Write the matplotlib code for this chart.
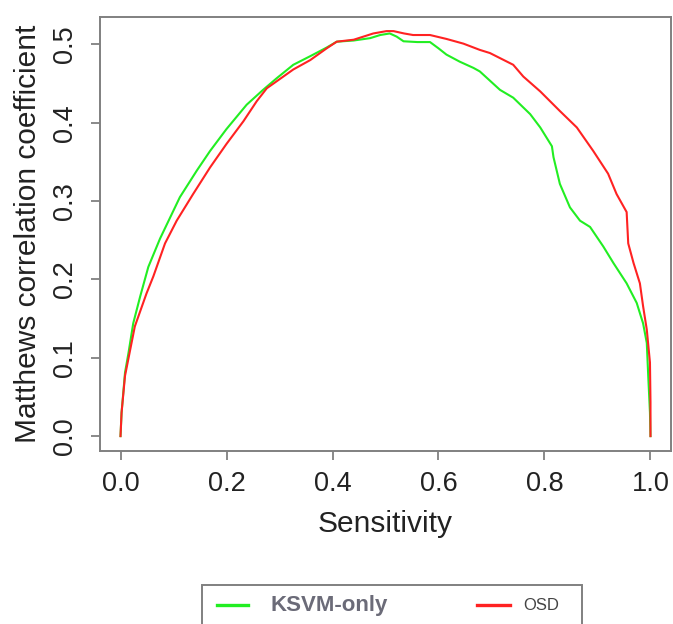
import matplotlib
matplotlib.use("Agg")
import matplotlib.pyplot as plt
from matplotlib.lines import Line2D
from matplotlib.patches import Rectangle

plt.rcParams['font.family'] = ['Liberation Sans', 'DejaVu Sans']

# KSVM-only (green) curve: sensitivity vs MCC
ksvm_sens = [0.0, 0.002, 0.0085, 0.015, 0.024, 0.037, 0.0525, 0.0745, 0.112, 0.144,
             0.169, 0.200, 0.238, 0.269, 0.295, 0.326, 0.358, 0.389, 0.408, 0.440,
             0.471, 0.490, 0.508, 0.521, 0.534, 0.560, 0.584, 0.600, 0.615, 0.640,
             0.666, 0.678, 0.716, 0.741, 0.773, 0.792, 0.814, 0.817, 0.829, 0.848,
             0.867, 0.886, 0.911, 0.930, 0.955, 0.974, 0.986, 0.993, 0.996, 0.999, 1.0]
ksvm_mcc = [0.0, 0.030, 0.081, 0.106, 0.144, 0.178, 0.216, 0.252, 0.305, 0.339,
            0.364, 0.392, 0.423, 0.442, 0.457, 0.474, 0.485, 0.496, 0.5035, 0.505,
            0.508, 0.512, 0.514, 0.510, 0.504, 0.503, 0.503, 0.495, 0.487, 0.478,
            0.470, 0.4655, 0.442, 0.432, 0.411, 0.394, 0.370, 0.356, 0.322, 0.292,
            0.275, 0.267, 0.242, 0.221, 0.195, 0.170, 0.144, 0.119, 0.073, 0.03, 0.0]

# OSD (red) curve
osd_sens = [0.0, 0.002, 0.0085, 0.027, 0.049, 0.062, 0.084, 0.106, 0.137, 0.169,
            0.200, 0.232, 0.257, 0.276, 0.326, 0.358, 0.389, 0.408, 0.440, 0.477,
            0.502, 0.515, 0.535, 0.552, 0.584, 0.615, 0.647, 0.678, 0.697, 0.741,
            0.760, 0.792, 0.829, 0.861, 0.892, 0.920, 0.936, 0.955, 0.958, 0.968,
            0.980, 0.986, 0.993, 0.999, 1.0, 1.0]
osd_mcc = [0.0, 0.030, 0.077, 0.140, 0.182, 0.204, 0.246, 0.275, 0.309, 0.343,
           0.373, 0.402, 0.4275, 0.444, 0.468, 0.480, 0.495, 0.5035, 0.506, 0.514,
           0.517, 0.517, 0.514, 0.512, 0.512, 0.507, 0.501, 0.493, 0.489, 0.474,
           0.459, 0.440, 0.415, 0.394, 0.364, 0.335, 0.309, 0.286, 0.246, 0.221,
           0.195, 0.166, 0.136, 0.094, 0.043, 0.0]

series_names = ["KSVM-only", "OSD"]
series_colors = ["#22ee22", "#ff2222"]

x_ticks = [0.0, 0.2, 0.4, 0.6, 0.8, 1.0]
x_ticklabels = ["0.0", "0.2", "0.4", "0.6", "0.8", "1.0"]
y_ticks = [0.0, 0.1, 0.2, 0.3, 0.4, 0.5]
y_ticklabels = ["0.0", "0.1", "0.2", "0.3", "0.4", "0.5"]

W, H = 673, 624
fig = plt.figure(figsize=(W / 100, H / 100), dpi=100)
ax = fig.add_axes([100 / W, 1 - 451 / H, 571 / W, 434 / H])

ax.plot(ksvm_sens, ksvm_mcc, color=series_colors[0], lw=1.5)
ax.plot(osd_sens, osd_mcc, color=series_colors[1], lw=1.5)

ax.set_xlim(-0.0387, 1.0387)
ax.set_ylim(-0.019, 0.535)

edge = "#808080"
for s in ax.spines.values():
    s.set_color(edge)
    s.set_linewidth(1.4)

ax.set_xticks(x_ticks)
ax.set_xticklabels(x_ticklabels)
ax.set_yticks(y_ticks)
ax.set_yticklabels(y_ticklabels, rotation=90, va='center')
ax.tick_params(axis='both', direction='out', length=6.5, width=1.3, color=edge,
               labelsize=19.5, labelcolor='#222222')
ax.tick_params(axis='x', pad=8)
ax.tick_params(axis='y', pad=9)

ax.set_xlabel("Sensitivity", fontsize=21.5, color='#222222')
ax.set_ylabel("Matthews correlation coefficient", fontsize=21.5, color='#222222')
ax.xaxis.set_label_coords(0.5, -0.136)
ax.yaxis.set_label_coords(-0.102, 0.5)

# Legend box at the bottom (cut off by figure edge, as in reference)
fig.add_artist(Rectangle((202 / W, -0.05), 380 / W, 0.05 + (624 - 585) / H,
                         transform=fig.transFigure, fill=False,
                         edgecolor=edge, lw=1.4))
ly = (624 - 605) / H
fig.add_artist(Line2D([217 / W, 248 / W], [ly, ly], transform=fig.transFigure,
                      color=series_colors[0], lw=2.4))
fig.text(270 / W, ly, series_names[0], fontsize=16, fontweight='bold',
         color='#6b6b78', va='center', ha='left')
fig.add_artist(Line2D([477 / W, 510 / W], [ly, ly], transform=fig.transFigure,
                      color=series_colors[1], lw=2.4))
fig.text(523 / W, ly, series_names[1], fontsize=12, color='#444444',
         va='center', ha='left')

fig.savefig("out.png", dpi=100)
